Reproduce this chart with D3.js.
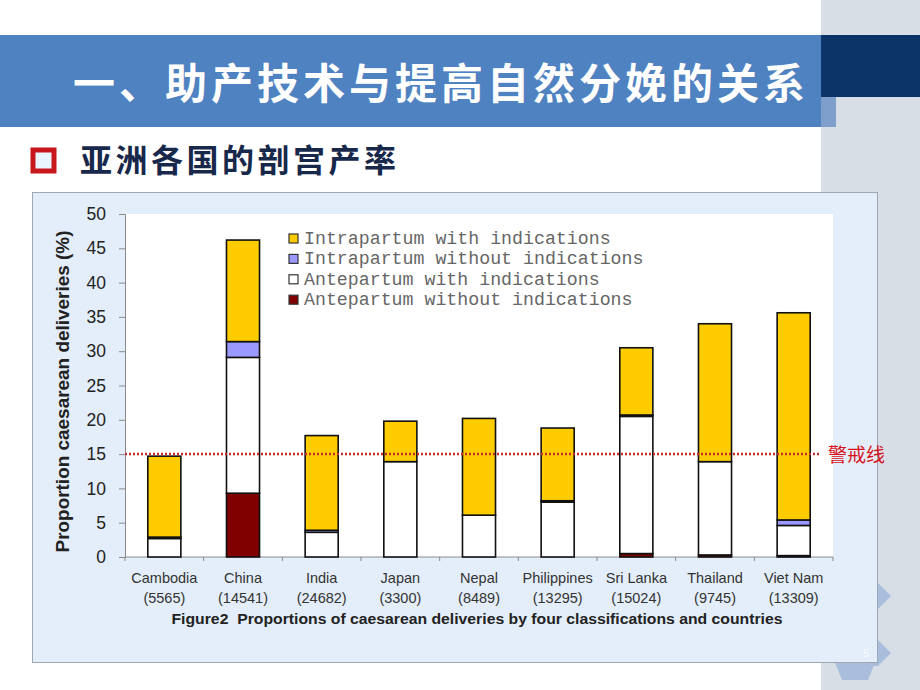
<!DOCTYPE html>
<html>
<head>
<meta charset="utf-8">
<script src="https://cdn.jsdelivr.net/npm/d3@7"></script>
<style>
  body { margin: 0; background: #fff; }
  svg { display: block; }
</style>
</head>
<body>
<script>
// countries and sample sizes (x axis)
var countries = ['Cambodia', 'China', 'India', 'Japan', 'Nepal', 'Philippines', 'Sri Lanka', 'Thailand', 'Viet Nam'];
var sampleSizes = ['5565', '14541', '24682', '3300', '8489', '13295', '15024', '9745', '13309'];

// four stacked series, bottom to top (%)
var anteWithout = [0, 9.3, 0, 0, 0, 0, 0.5, 0.3, 0.2];
var anteWith = [2.7, 19.8, 3.6, 13.9, 6.1, 8.0, 20.0, 13.6, 4.4];
var intraWithout = [0.2, 2.3, 0.3, 0, 0, 0.2, 0.2, 0, 0.8];
var intraWith = [11.8, 14.8, 13.8, 5.9, 14.1, 10.6, 9.8, 20.1, 30.2];

var seriesKeys = ['anteWithout', 'anteWith', 'intraWithout', 'intraWith'];
var seriesColors = ['#800000', '#ffffff', '#9999ff', '#ffcc00'];
// legend order (top to bottom)
var legendLabels = ['Intrapartum with indications', 'Intrapartum without indications',
  'Antepartum with indications', 'Antepartum without indications'];
var legendColors = ['#ffcc00', '#9999ff', '#ffffff', '#800000'];

var yTicks = [0, 5, 10, 15, 20, 25, 30, 35, 40, 45, 50];
var warnValue = 15;

var W = 920, H = 690;
var svg = d3.select('body').append('svg')
  .attr('width', W)
  .attr('height', H);

// ---- slide background ----
svg.append('rect').attr('x', 821).attr('y', 0).attr('width', 99).attr('height', H).attr('fill', '#d8dee6');

// title band
svg.append('rect').attr('x', 0).attr('y', 35).attr('width', 821).attr('height', 92).attr('fill', '#4f82c1');
svg.append('rect').attr('x', 821).attr('y', 97).attr('width', 15).attr('height', 30).attr('fill', '#7e9ecb');
svg.append('rect').attr('x', 821).attr('y', 35).attr('width', 99).attr('height', 62).attr('fill', '#0d3468');

svg.append('text')
  .attr('x', 73).attr('y', 99)
  .attr('textLength', 732).attr('lengthAdjust', 'spacing')
  .style('font-family', '"Noto Sans CJK SC", sans-serif')
  .style('font-weight', 'bold')
  .style('font-size', '42px')
  .attr('fill', '#fff')
  .text('一、助产技术与提高自然分娩的关系');

// subtitle with bullet
svg.append('rect').attr('x', 33).attr('y', 150).attr('width', 21).attr('height', 21)
  .attr('fill', '#eaf6ff').attr('stroke', '#c8161d').attr('stroke-width', 5);
svg.append('text')
  .attr('x', 80).attr('y', 172)
  .attr('textLength', 316).attr('lengthAdjust', 'spacing')
  .style('font-family', '"Noto Sans CJK SC", sans-serif')
  .style('font-weight', 'bold')
  .style('font-size', '32px')
  .attr('fill', '#17284a')
  .text('亚洲各国的剖宫产率');

// decorative chevrons on the right
var deco = '#a9bedc';
svg.append('polygon').attr('points', '860,583 878,583 891,596 878,609 860,609').attr('fill', deco);
svg.append('polygon').attr('points', '860,640 878,640 891,653 878,666 860,666').attr('fill', deco);
svg.append('polygon').attr('points', '834,660 876,660 868,680 842,680').attr('fill', deco);

// chart panel
svg.append('rect').attr('x', 32.5).attr('y', 192.5).attr('width', 845).attr('height', 470)
  .attr('fill', '#e4eefa').attr('stroke', '#9ea7b2');

svg.append('text').attr('x', 866).attr('y', 657)
  .style('font-family', 'Liberation Sans, Arial, sans-serif').style('font-size', '10px')
  .attr('fill', '#fff').attr('fill-opacity', 0.8).attr('text-anchor', 'middle').text('5');

// ---- plot ----
var plot = { left: 125, top: 214, right: 833, bottom: 557 };
var g = svg.append('g');

g.append('rect')
  .attr('x', plot.left).attr('y', plot.top)
  .attr('width', plot.right - plot.left).attr('height', plot.bottom - plot.top)
  .attr('fill', '#fff');

var x = d3.scaleBand()
  .domain(countries)
  .range([plot.left, plot.right])
  .paddingInner(0.58)
  .paddingOuter(0.29);

var y = d3.scaleLinear()
  .domain([0, 50])
  .range([plot.bottom, plot.top]);

var table = countries.map(function(c, i) {
  return { country: c, anteWithout: anteWithout[i], anteWith: anteWith[i],
           intraWithout: intraWithout[i], intraWith: intraWith[i] };
});

var stacked = d3.stack().keys(seriesKeys)(table);

// y axis
var yAxis = d3.axisLeft(y).tickValues(yTicks).tickSize(6).tickPadding(13);
var yG = g.append('g')
  .attr('transform', 'translate(' + plot.left + ',0)')
  .call(yAxis);
yG.select('.domain').attr('stroke', '#8a8a8a');
yG.selectAll('.tick line').attr('stroke', '#8a8a8a');
yG.selectAll('.tick text')
  .style('font-family', 'Liberation Sans, Arial, sans-serif')
  .style('font-size', '17.5px')
  .attr('fill', '#222');

// x axis baseline and boundary ticks
g.append('line')
  .attr('x1', plot.left).attr('x2', plot.right)
  .attr('y1', y(0)).attr('y2', y(0))
  .attr('stroke', '#8a8a8a');
var step = x.step();
var bounds = d3.range(countries.length + 1).map(function(i) { return plot.left + i * step; });
g.selectAll('.xtick')
  .data(bounds)
  .enter().append('line')
  .attr('x1', function(d) { return d; }).attr('x2', function(d) { return d; })
  .attr('y1', y(0)).attr('y2', y(0) + 4)
  .attr('stroke', '#8a8a8a');

// bars
g.selectAll('.layer')
  .data(stacked)
  .enter().append('g')
  .attr('fill', function(d, i) { return seriesColors[i]; })
  .selectAll('rect')
  .data(function(d) { return d.filter(function(p) { return p[1] - p[0] > 0; }); })
  .enter().append('rect')
  .attr('x', function(d) { return x(d.data.country); })
  .attr('y', function(d) { return y(d[1]); })
  .attr('width', x.bandwidth())
  .attr('height', function(d) { return y(d[0]) - y(d[1]); })
  .attr('stroke', '#111')
  .attr('stroke-width', 1.6);

// warning line at 15%
g.append('line')
  .attr('x1', plot.left).attr('x2', 821)
  .attr('y1', y(warnValue)).attr('y2', y(warnValue))
  .attr('stroke', '#c0302a')
  .attr('stroke-width', 2.5)
  .attr('stroke-dasharray', '2,2');
svg.append('text')
  .attr('x', 828).attr('y', y(warnValue) + 8)
  .style('font-family', '"Noto Sans CJK SC", sans-serif')
  .style('font-size', '19px')
  .attr('fill', '#d8121b')
  .text('警戒线');

// y axis title
svg.append('text')
  .attr('transform', 'translate(69,' + ((plot.top + plot.bottom) / 2 + 6) + ') rotate(-90)')
  .attr('text-anchor', 'middle')
  .attr('textLength', 322).attr('lengthAdjust', 'spacingAndGlyphs')
  .style('font-family', 'Liberation Sans, Arial, sans-serif')
  .style('font-weight', 'bold')
  .style('font-size', '18px')
  .attr('fill', '#222')
  .text('Proportion caesarean deliveries (%)');

// category labels
var xl = g.selectAll('.xl')
  .data(countries)
  .enter().append('g')
  .attr('transform', function(d) { return 'translate(' + (x(d) + x.bandwidth() / 2) + ',0)'; });
xl.append('text')
  .attr('y', 583)
  .attr('text-anchor', 'middle')
  .style('font-family', 'Liberation Sans, Arial, sans-serif')
  .style('font-size', '14.5px')
  .attr('fill', '#333')
  .text(function(d) { return d; });
xl.append('text')
  .attr('y', 603)
  .attr('text-anchor', 'middle')
  .style('font-family', 'Liberation Sans, Arial, sans-serif')
  .style('font-size', '14.5px')
  .attr('fill', '#333')
  .text(function(d, i) { return '(' + sampleSizes[i] + ')'; });

// caption
svg.append('text')
  .attr('x', 477).attr('y', 624)
  .attr('text-anchor', 'middle')
  .attr('textLength', 611).attr('lengthAdjust', 'spacingAndGlyphs')
  .style('font-family', 'Liberation Sans, Arial, sans-serif')
  .style('font-weight', 'bold')
  .style('font-size', '14.5px')
  .style('white-space', 'pre')
  .attr('fill', '#222')
  .text('Figure2  Proportions of caesarean deliveries by four classifications and countries');

// legend
var legend = g.append('g').attr('transform', 'translate(289,234)');
var li = legend.selectAll('.li')
  .data(legendLabels)
  .enter().append('g')
  .attr('transform', function(d, i) { return 'translate(0,' + (i * 20.4) + ')'; });
li.append('rect')
  .attr('width', 9).attr('height', 9)
  .attr('fill', function(d, i) { return legendColors[i]; })
  .attr('stroke', '#333').attr('stroke-width', 1.2);
li.append('text')
  .attr('x', 15).attr('y', 10)
  .attr('textLength', function(d) { return d.length * 10.95; })
  .attr('lengthAdjust', 'spacingAndGlyphs')
  .style('font-family', '"Liberation Mono", "Courier New", monospace')
  .style('font-size', '18px')
  .attr('fill', '#666')
  .text(function(d) { return d; });
</script>
</body>
</html>
